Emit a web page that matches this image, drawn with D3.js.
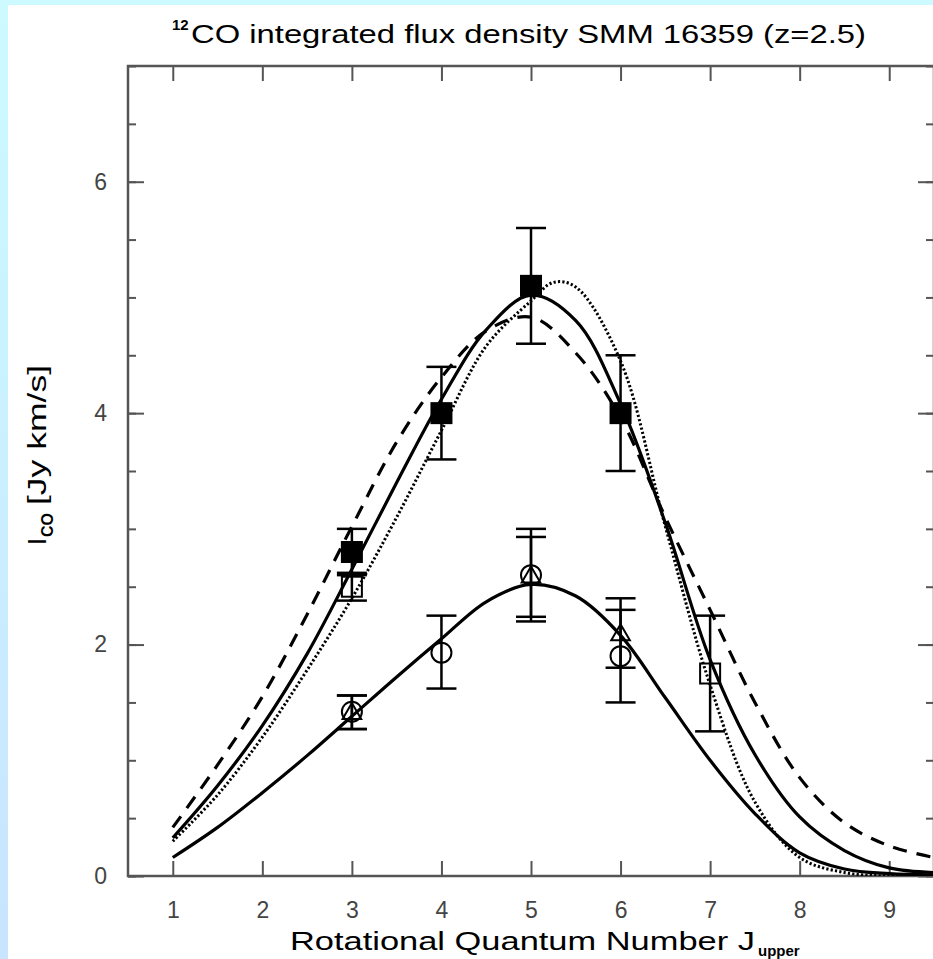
<!DOCTYPE html>
<meta charset="utf-8">
<script src="https://d3js.org/d3.v7.min.js"></script>
<style>
  body { margin: 0; background: #fff; }
  text { font-family: "Liberation Sans", Arial, sans-serif; }
</style>
<body>
<div id="my_dataviz"></div>
<script>

// ---------------- data ----------------
// model curves (J upper -> I_CO)
const curveJ = [1, 1.5, 2, 2.5, 3, 3.5, 4, 4.5, 5, 5.5, 6, 6.5, 7, 7.5, 8, 8.5, 9, 9.5]
const solidHigh = [0.33, 0.78, 1.3, 1.92, 2.65, 3.4, 4.12, 4.72, 5.02, 4.8, 4.08, 3.05, 1.87, 1.05, 0.51, 0.22, 0.07, 0.03]
const dashed    = [0.42, 0.96, 1.55, 2.26, 3.02, 3.75, 4.31, 4.71, 4.83, 4.52, 3.96, 3.1, 2.3, 1.5, 0.85, 0.46, 0.26, 0.16]
const solidLow  = [0.16, 0.42, 0.72, 1.04, 1.38, 1.72, 2.05, 2.37, 2.52, 2.42, 2.08, 1.54, 1.0, 0.54, 0.2, 0.06, 0.02, 0.01]
const dottedJ   = [1, 1.5, 2, 2.5, 3, 3.5, 4, 4.5, 5, 5.25, 5.5, 6, 6.5, 7, 7.5, 8, 8.5, 9, 9.5]
const dotted    = [0.3, 0.7, 1.2, 1.78, 2.4, 3.1, 3.85, 4.58, 4.97, 5.13, 5.09, 4.45, 3.02, 1.65, 0.64, 0.16, 0.03, 0.0, 0.0]

// measured points: J, value, lower error end, upper error end
const filledSqJ   = [3, 4, 5, 6]
const filledSqVal = [2.8, 4.0, 5.1, 4.0]
const filledSqLo  = [2.6, 3.6, 4.6, 3.5]
const filledSqHi  = [3.0, 4.4, 5.6, 4.5]

const openSqJ   = [3, 7]
const openSqVal = [2.5, 1.75]
const openSqLo  = [2.38, 1.25]
const openSqHi  = [2.62, 2.25]

const circleJ   = [3, 4, 5, 6]
const circleVal = [1.42, 1.93, 2.6, 1.9]
const circleLo  = [1.27, 1.62, 2.2, 1.5]
const circleHi  = [1.56, 2.25, 3.0, 2.3]

const triJ   = [3, 5, 6]
const triVal = [1.42, 2.6, 2.1]
const triLo  = [1.27, 2.24, 1.8]
const triHi  = [1.56, 2.93, 2.4]

const xTicks = [1, 2, 3, 4, 5, 6, 7, 8, 9]
const yMajor = [0, 2, 4, 6]
const yMinor = d3.range(0, 7.01, 0.5)

// ---------------- layout ----------------
const W = 933, H = 959
const svg = d3.select("#my_dataviz")
  .append("svg")
  .attr("width", W)
  .attr("height", H)

// light blue border strips
const defs = svg.append("defs")
const grad = defs.append("linearGradient")
  .attr("id", "edge").attr("x1", 0).attr("y1", 0).attr("x2", 0).attr("y2", 1)
grad.append("stop").attr("offset", "0%").attr("stop-color", "#ccfaff")
grad.append("stop").attr("offset", "100%").attr("stop-color", "#c8e4ff")
svg.append("rect").attr("width", W).attr("height", H).attr("fill", "#fff")
svg.append("rect").attr("width", 8).attr("height", H).attr("fill", "url(#edge)")
svg.append("rect").attr("width", W).attr("height", 5).attr("fill", "#ccfaff")

const x = d3.scaleLinear().domain([0.5, 9.5]).range([128, 934])
const y = d3.scaleLinear().domain([0, 7]).range([876, 66])

defs.append("clipPath").attr("id", "plotclip")
  .append("rect")
  .attr("x", x(0.5)).attr("y", y(7))
  .attr("width", x(9.5) - x(0.5)).attr("height", y(0) - y(7))

const axisColor = "#555"

// ---------------- axes ----------------
svg.append("g")
  .attr("transform", `translate(0,${y(0)})`)
  .call(d3.axisBottom(x).tickValues(xTicks).tickSizeInner(-15).tickSizeOuter(0).tickPadding(26))
svg.append("g")
  .attr("transform", `translate(0,${y(7)})`)
  .call(d3.axisTop(x).tickValues(xTicks).tickSizeInner(-15).tickSizeOuter(0).tickFormat(""))

svg.append("g")
  .attr("transform", `translate(${x(0.5)},0)`)
  .call(d3.axisLeft(y).tickValues(yMinor).tickSizeInner(-8).tickSizeOuter(0).tickFormat(""))
svg.append("g")
  .attr("transform", `translate(${x(0.5)},0)`)
  .call(d3.axisLeft(y).tickValues(yMajor).tickSizeInner(-16).tickSizeOuter(0).tickPadding(21).tickFormat(d3.format("d")))
svg.append("g")
  .attr("transform", `translate(${x(9.5)},0)`)
  .call(d3.axisRight(y).tickValues(yMinor).tickSizeInner(-8).tickSizeOuter(0).tickFormat(""))
svg.append("g")
  .attr("transform", `translate(${x(9.5)},0)`)
  .call(d3.axisRight(y).tickValues(yMajor).tickSizeInner(-16).tickSizeOuter(0).tickFormat(""))

svg.selectAll(".domain").remove()
svg.selectAll(".tick line").attr("stroke", axisColor).attr("stroke-width", 2)
svg.selectAll(".tick text")
  .attr("fill", "#444")
  .style("font-size", "23px")

// frame
svg.append("rect")
  .attr("x", x(0.5)).attr("y", y(7))
  .attr("width", x(9.5) - x(0.5)).attr("height", y(0) - y(7))
  .attr("fill", "none").attr("stroke", axisColor).attr("stroke-width", 2.5)

// ---------------- titles ----------------
svg.append("text")
  .attr("x", 172).attr("y", 30)
  .style("font-size", "15px").style("font-weight", "bold")
  .text("12")
svg.append("text")
  .attr("x", 191).attr("y", 43)
  .attr("textLength", 675).attr("lengthAdjust", "spacingAndGlyphs")
  .style("font-size", "25px")
  .text("CO integrated flux density SMM 16359 (z=2.5)")

svg.append("text")
  .attr("x", 290).attr("y", 950)
  .attr("textLength", 465).attr("lengthAdjust", "spacingAndGlyphs")
  .style("font-size", "25px")
  .text("Rotational Quantum Number J")
svg.append("text")
  .attr("x", 758).attr("y", 956)
  .style("font-size", "15px").style("font-weight", "bold")
  .text("upper")

// y label: "I" + subscript "CO" + " [Jy km/s]"
const yl = svg.append("g").attr("transform", "translate(46,545) rotate(-90)")
yl.append("text").attr("x", 0).attr("y", 0)
  .style("font-size", "25px").text("I")
yl.append("text").attr("x", 8).attr("y", 7)
  .style("font-size", "16px").style("font-weight", "bold").text("CO")
yl.append("text").attr("x", 40).attr("y", 0)
  .attr("textLength", 140).attr("lengthAdjust", "spacingAndGlyphs")
  .style("font-size", "25px").text("[Jy km/s]")

// ---------------- model curves ----------------
const plot = svg.append("g").attr("clip-path", "url(#plotclip)")
const line = d3.line()
  .x(d => x(d[0]))
  .y(d => y(d[1]))
  .curve(d3.curveCatmullRom.alpha(0.5))

const curves = [
  { J: curveJ, v: dashed, dash: "14,10", w: 3.2 },
  { J: dottedJ, v: dotted, dash: "2.2,2.2", w: 3 },
  { J: curveJ, v: solidHigh, dash: null, w: 3.2 },
  { J: curveJ, v: solidLow, dash: null, w: 3.2 }
]
curves.forEach(c => {
  plot.append("path")
    .datum(c.J.map((j, i) => [j, c.v[i]]))
    .attr("d", line)
    .attr("fill", "none")
    .attr("stroke", "#000")
    .attr("stroke-width", c.w)
    .attr("stroke-dasharray", c.dash)
})

// ---------------- error bars + markers ----------------
function errorBars(J, lo, hi) {
  const g = plot.append("g").attr("stroke", "#000").attr("stroke-width", 2.5)
  J.forEach((j, i) => {
    g.append("line").attr("x1", x(j)).attr("x2", x(j)).attr("y1", y(lo[i])).attr("y2", y(hi[i]))
    g.append("line").attr("x1", x(j) - 15).attr("x2", x(j) + 15).attr("y1", y(lo[i])).attr("y2", y(lo[i]))
    g.append("line").attr("x1", x(j) - 15).attr("x2", x(j) + 15).attr("y1", y(hi[i])).attr("y2", y(hi[i]))
  })
}
errorBars(openSqJ, openSqLo, openSqHi)
errorBars(filledSqJ, filledSqLo, filledSqHi)
errorBars(circleJ, circleLo, circleHi)
errorBars(triJ, triLo, triHi)

plot.selectAll("rect.open")
  .data(openSqJ)
  .join("rect")
  .attr("x", (d, i) => x(d) - 10).attr("y", (d, i) => y(openSqVal[i]) - 10)
  .attr("width", 20).attr("height", 20)
  .attr("fill", "none").attr("stroke", "#000").attr("stroke-width", 2)

plot.selectAll("rect.filled")
  .data(filledSqJ)
  .join("rect")
  .attr("x", (d, i) => x(d) - 11).attr("y", (d, i) => y(filledSqVal[i]) - 11)
  .attr("width", 22).attr("height", 22)
  .attr("fill", "#000")

plot.selectAll("circle.pt")
  .data(circleJ)
  .join("circle")
  .attr("cx", d => x(d))
  .attr("cy", (d, i) => y(circleVal[i]))
  .attr("r", 10)
  .attr("fill", "none").attr("stroke", "#000").attr("stroke-width", 2)

plot.selectAll("path.tri")
  .data(triJ)
  .join("path")
  .attr("d", d3.symbol().type(d3.symbolTriangle).size(150))
  .attr("transform", (d, i) => `translate(${x(d)},${y(triVal[i]) + 2})`)
  .attr("fill", "none").attr("stroke", "#000").attr("stroke-width", 2)

</script>
</body>
